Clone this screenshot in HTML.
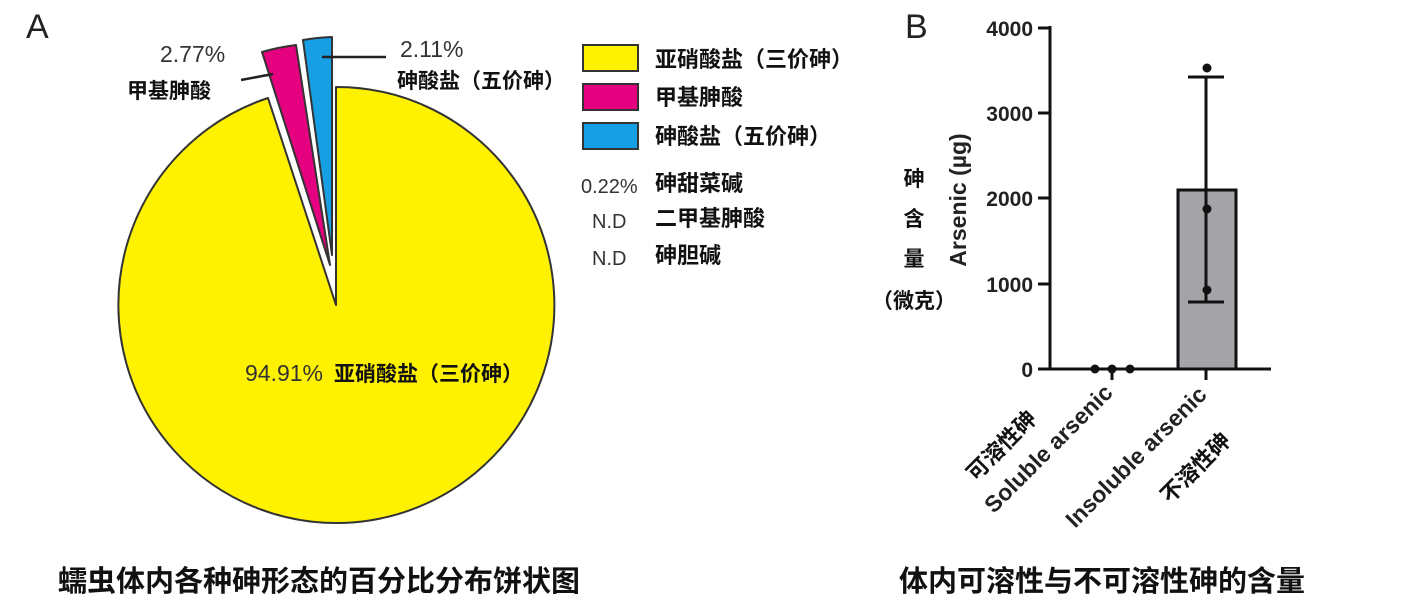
<!DOCTYPE html>
<html><head><meta charset="utf-8"><style>
body{margin:0;background:#fff;}
svg{display:block;}
text{font-family:"Liberation Sans","Noto Sans CJK SC",sans-serif;}
.cn{font-family:"Liberation Sans","Noto Sans CJK SC",sans-serif;font-weight:bold;}
</style></head><body>
<svg width="1405" height="611" viewBox="0 0 1405 611" xmlns="http://www.w3.org/2000/svg">
<text x="26" y="38" font-size="34" fill="#222">A</text>
<text x="905" y="38" font-size="34" fill="#222">B</text>
<g stroke="#333" stroke-width="2" stroke-linejoin="round">
<path d="M336,305 L336,87 A218,218 0 1,1 268,98 Z" fill="#fff200"/>
<path d="M330,265 L262,52 A218,218 0 0,1 296,45 Z" fill="#e4007f"/>
<path d="M332,255 L303,40 A218,218 0 0,1 332,37 Z" fill="#179fe5"/>
</g>
<g stroke="#222" stroke-width="2.5">
<line x1="241" y1="80" x2="273" y2="74"/>
<line x1="322" y1="57" x2="386" y2="57"/>
</g>
<text x="160" y="62" font-size="23" fill="#333">2.77%</text>
<text x="127" y="98" font-size="21" class="cn" fill="#111">甲基胂酸</text>
<text x="400" y="57" font-size="23" fill="#333">2.11%</text>
<text x="397" y="88" font-size="21" class="cn" fill="#111">砷酸盐（五价砷）</text>
<text x="245" y="381" font-size="23" fill="#333">94.91%</text>
<text x="334" y="381" font-size="21" class="cn" fill="#111">亚硝酸盐（三价砷）</text>
<g stroke="#333" stroke-width="2">
<rect x="583" y="45" width="55" height="26" fill="#fff200"/>
<rect x="583" y="84" width="55" height="26" fill="#e4007f"/>
<rect x="583" y="123" width="55" height="26" fill="#179fe5"/>
</g>
<g font-size="22" class="cn" fill="#111">
<text x="655" y="67">亚硝酸盐（三价砷）</text>
<text x="655" y="105">甲基胂酸</text>
<text x="655" y="144">砷酸盐（五价砷）</text>
<text x="655" y="191">砷甜菜碱</text>
<text x="655" y="226">二甲基胂酸</text>
<text x="655" y="263">砷胆碱</text>
</g>
<g font-size="20" fill="#333">
<text x="581" y="193">0.22%</text>
<text x="592" y="228">N.D</text>
<text x="592" y="265">N.D</text>
</g>
<text x="58" y="591" font-size="29" class="cn" fill="#111">蠕虫体内各种砷形态的百分比分布饼状图</text>
<text x="899" y="591" font-size="29" class="cn" fill="#111">体内可溶性与不可溶性砷的含量</text>
<g stroke="#111" stroke-width="3" fill="none">
<line x1="1050" y1="26" x2="1050" y2="369"/>
<line x1="1049" y1="369" x2="1271" y2="369"/>
<line x1="1038" y1="28" x2="1050" y2="28"/>
<line x1="1038" y1="113" x2="1050" y2="113"/>
<line x1="1038" y1="198" x2="1050" y2="198"/>
<line x1="1038" y1="284" x2="1050" y2="284"/>
<line x1="1038" y1="369" x2="1050" y2="369"/>
<line x1="1112" y1="369" x2="1112" y2="380"/>
<line x1="1206" y1="369" x2="1206" y2="380"/>
</g>
<rect x="1178" y="190" width="58" height="179" fill="#a4a4a8" stroke="#111" stroke-width="3"/>
<g stroke="#111" stroke-width="3">
<line x1="1206" y1="77" x2="1206" y2="302"/>
<line x1="1188" y1="77" x2="1224" y2="77"/>
<line x1="1188" y1="302" x2="1224" y2="302"/>
</g>
<g fill="#111">
<circle cx="1207" cy="68" r="4.5"/>
<circle cx="1207" cy="209" r="4.5"/>
<circle cx="1207" cy="290" r="4.5"/>
<circle cx="1095" cy="369" r="4.5"/>
<circle cx="1112" cy="369" r="4.5"/>
<circle cx="1130" cy="369" r="4.5"/>
</g>
<g font-size="21" font-weight="bold" fill="#222" text-anchor="end">
<text x="1033" y="36">4000</text>
<text x="1033" y="121">3000</text>
<text x="1033" y="206">2000</text>
<text x="1033" y="292">1000</text>
<text x="1033" y="377">0</text>
</g>
<text transform="translate(966,200) rotate(-90)" text-anchor="middle" font-size="23" font-weight="bold" fill="#222">Arsenic (µg)</text>
<g font-size="21" class="cn" fill="#111" text-anchor="middle">
<text x="914" y="186">砷</text>
<text x="914" y="226">含</text>
<text x="914" y="266">量</text>
<text x="914" y="308">（微克）</text>
</g>
<g font-size="23" font-weight="bold" fill="#222" text-anchor="end">
<text transform="translate(1114,394) rotate(-45)">Soluble arsenic</text>
<text transform="translate(1208,396) rotate(-45)">Insoluble arsenic</text>
</g>
<g font-size="22" class="cn" fill="#111" text-anchor="end">
<text transform="translate(1038,420) rotate(-45)">可溶性砷</text>
<text transform="translate(1232,442) rotate(-45)">不溶性砷</text>
</g>
</svg>
</body></html>
